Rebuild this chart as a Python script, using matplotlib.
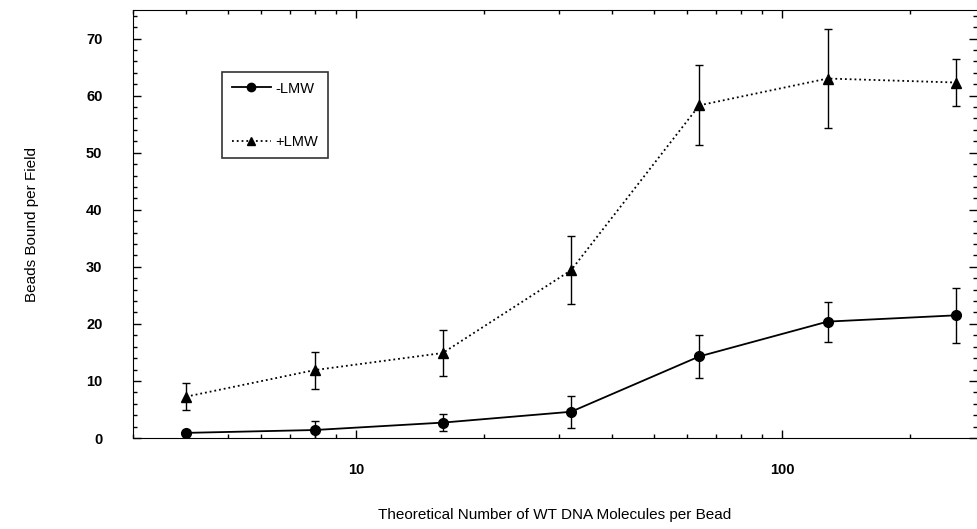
import matplotlib.pyplot as plt
from matplotlib.ticker import FixedLocator, NullFormatter, MultipleLocator
from matplotlib.lines import Line2D

plt.rcParams['font.family'] = ['Liberation Sans', 'DejaVu Sans']

# molecules per bead (log axis)
molecules = [4, 8, 16, 32, 64, 128, 256]

# beads bound per field, with error
minus_lmw = [0.9, 1.4, 2.7, 4.6, 14.3, 20.4, 21.5]
minus_err = [0.5, 1.5, 1.5, 2.8, 3.8, 3.5, 4.8]
plus_lmw = [7.25, 11.9, 14.9, 29.4, 58.3, 63.0, 62.3]
plus_err = [2.4, 3.25, 4.1, 6.0, 7.0, 8.75, 4.2]

fig = plt.figure(figsize=(9.78, 5.29), dpi=100)
ax = fig.add_axes([0.136, 0.172, 0.863, 0.809])

ax.errorbar(molecules, minus_lmw, yerr=minus_err, color='black', lw=1.3,
            marker='o', ms=7, capsize=3, elinewidth=1, capthick=1)
ax.errorbar(molecules, plus_lmw, yerr=plus_err, color='black', lw=1.3,
            ls=':', marker='^', ms=7, capsize=3, elinewidth=1, capthick=1)

ax.set_xscale('log')
ax.set_xlim(3.0, 287)
ax.set_ylim(0, 75)

ax.xaxis.set_major_locator(FixedLocator([10, 100]))
ax.set_xticklabels(['10', '100'])
ax.xaxis.set_minor_locator(FixedLocator(
    [3, 4, 5, 6, 7, 8, 9, 20, 30, 40, 50, 60, 70, 80, 90, 200]))
ax.xaxis.set_minor_formatter(NullFormatter())
ax.yaxis.set_major_locator(MultipleLocator(10))
ax.yaxis.set_minor_locator(MultipleLocator(2))

ax.tick_params(which='both', direction='in', top=True, right=True,
               labelsize=10.5, width=1)
ax.tick_params(which='major', length=6)
ax.tick_params(which='minor', length=3)
ax.tick_params(axis='x', pad=18)
ax.tick_params(axis='y', pad=22)
for lbl in ax.get_xticklabels() + ax.get_yticklabels():
    lbl.set_fontweight('bold')
ax.spines['right'].set_visible(False)

ax.set_xlabel('Theoretical Number of WT DNA Molecules per Bead',
              fontsize=11, labelpad=22)
ax.set_ylabel('Beads Bound per Field', fontsize=11, labelpad=34)

# legend keys: line + marker only, no error caps
handles = [
    Line2D([], [], color='black', lw=1.3, marker='o', ms=6),
    Line2D([], [], color='black', lw=1.3, ls=':', marker='^', ms=6),
]
leg = ax.legend(handles, ['-LMW', '+LMW'], loc='upper left',
                bbox_to_anchor=(0.097, 0.872),
                frameon=True, fancybox=False, edgecolor='black',
                labelspacing=2.7, handlelength=2.7, handletextpad=0.3,
                borderpad=0.65, fontsize=10.5)
leg.get_frame().set_linewidth(1.2)

plt.savefig('out.png', dpi=100)
